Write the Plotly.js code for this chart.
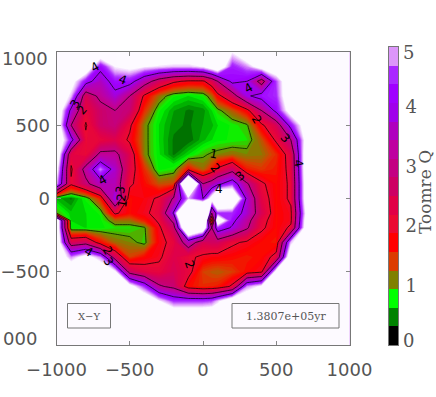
<!DOCTYPE html>
<html><head><meta charset="utf-8">
<script src="https://cdn.plot.ly/plotly-3.0.1.min.js"></script>
<style>html,body{margin:0;padding:0;background:#fff}#c{width:436px;height:397px}</style>
</head><body><div id="c"></div>
<script>
var gridX=[-1000,-900,-800,-700,-600,-500,-400,-300,-200,-100,0,60,100,200,300,400,500,600,700,800,900,1000];
var gridY=[1000,900,800,700,600,500,400,300,200,100,0,-100,-150,-200,-300,-400,-500,-600,-700,-800,-900,-1000];
var toomreQ=[
[6,6,6,6,5.2,6,6,6,6,6,6,6,6,5.2,6,6,6,6,6,6,6,6],
[6,6,6,4.2,5.2,5.4,5.2,5.1,5,5,5.2,5.7,6,4.4,4.8,5.6,6,6,6,6,6,6],
[6,5.5,4.3,3.6,4.3,4.3,3.4,2.6,2.1,1.9,1.9,2.4,3,4.2,4,2.6,4.6,6,6,6,6,6],
[6,5,2.5,3.2,3.8,3,1.9,1.2,.8,.7,.8,1.2,1.8,2.6,3.9,4.3,4.5,6,6,6,6,6],
[6,3.8,2.2,2.7,3,2.8,1.5,.8,.55,.45,.5,.7,.9,1.3,1.8,3,4.2,5.6,6,6,6,6],
[6,3,1.95,2.7,2.9,2.1,1.1,.7,.5,.45,.55,.6,.7,.8,.95,1.9,2.5,4.3,5.6,6,6,6],
[6,4.3,2.1,2.2,2.4,1.9,1.1,.7,.45,.4,.6,.7,.75,.8,.85,1.3,2.1,3,5.4,6,6,6],
[6,2.3,2.1,3.2,3.2,2.4,1.1,.72,.45,.7,.95,1.05,1.1,1.2,1.1,1.15,1.5,2.3,5.6,6,6,6],
[5.5,1.9,3.3,4.8,3.7,2.3,1.5,.75,.85,1.7,1.2,1.6,2.1,2.7,1.6,1.45,1.6,2.2,5.6,6,6,6],
[5,2.1,2.8,3.6,3.5,2.1,1.7,1.3,1.4,9,3,3.4,3.8,4.5,3.1,2.1,1.7,2.1,5.5,6,6,6],
[.6,.45,.8,1.6,4,1.7,1.8,2.1,3.1,4.9,4,5.5,7,6.5,3.8,2.3,1.7,2.1,5.5,6,6,6],
[1,.65,.7,.8,2.1,1.7,1.9,2.2,4.1,9,9,3,4.5,4.5,3.7,2.5,1.7,1.9,5.2,6,6,6],
[6,.7,.7,.75,1.2,1.2,1.6,2.1,3.2,8,8,.7,6,4.2,3.3,2.2,1.7,1.9,5.4,6,6,6],
[6,.75,.7,.75,.85,.85,.95,1.9,2.7,7,6,3,4.5,3.9,3.1,2.1,1.7,2.1,5.5,6,6,6],
[6,2.5,2.7,1.7,1.2,1.1,.9,1.8,2.2,3.5,2.5,2.6,2.6,2.1,1.9,1.7,1.6,5,6,6,6,6],
[6,4.8,5.5,4.8,2.6,1.4,1.7,1.9,2.4,2.1,1.9,1.8,1.8,1.7,1.6,1.7,2.2,6,6,6,6,6],
[6,6,6,6,5.3,2.7,2.3,2.2,2.5,2.2,1.4,1.3,1.25,1.4,1.7,1.9,5.5,6,6,6,6,6],
[6,6,6,6,6,5.5,4.5,3.1,2.8,1.7,1.5,1.55,1.6,2.1,4.8,5.3,6,6,6,6,6,6],
[6,6,6,6,6,6,6,5.2,4.5,4.5,4.5,4.6,5,6,6,6,6,6,6,6,6,6],
[6,6,6,6,6,6,6,6,6,6,6,6,6,6,6,6,6,6,6,6,6,6],
[6,6,6,6,6,6,6,6,6,6,6,6,6,6,6,6,6,6,6,6,6,6],
[6,6,6,6,6,6,6,6,6,6,6,6,6,6,6,6,6,6,6,6,6,6]
];
var bandColors=['#000000','#008200','#00ff00','#808000','#dc3c00','#ff0000','#eb0a32','#e10046','#cd0064','#c30082','#be00a0','#af00be','#a000eb','#a000ff','#aa28ff','#dc96fa'];
var bandStep=0.3125;
var mapStep=0.078125;
var mapEnd=5.3125;
var outsideColor='#fdfaff';
var barTickVals=[1,2,3,4];
var xTickVals=[-1000,-500,0,500,1000];
var yTickVals=[-1000,-500,0,500,1000];
var yTickText=['','\u2212500','0','500',''];
var lineLabelText=['4','4','3','2','4','3','2','1','4','2','3','4','1','2','3','4','4','2','3','2'];
var lineLabelX=[-737,-546,-874,-826,-683,-566,-553,-546,314,369,560,648,75,82,252,109,-778,-648,-642,-89];
var lineLabelY=[901,812,648,607,123,61,7,-34,751,539,410,239,307,205,157,68,-362,-355,-430,-451];
var lineLabelAngle=[-30,20,-60,-50,-30,-80,-80,-80,-30,60,50,80,10,50,-40,0,30,60,60,70];
var serif='"DejaVu Serif", serif';
var sans='"DejaVu Sans", sans-serif';
var grey='#555555';

// map colours blend between the colour bar's band colours on finer contour levels
var nc=Math.round(mapEnd/mapStep)+1;
function uOf(z){return (z/mapStep+0.5)/nc;}
var fillScale=[[0,bandColors[0]]];
bandColors.forEach(function(c,i){fillScale.push([uOf((i+0.5)*bandStep),c]);});
fillScale.push([uOf(5.2),outsideColor]);
fillScale.push([1,outsideColor]);
var barZ=bandColors.map(function(c,i){return [(i+0.5)*bandStep];});
var barY=bandColors.map(function(c,i){return (i+0.5)*bandStep;});
var barScale=[];
bandColors.forEach(function(c,i){barScale.push([i/16,c]);barScale.push([(i+1)/16,c]);});

var fillContours={start:0,end:mapEnd,size:mapStep,coloring:'fill',showlines:false};
var lineContours={start:1,end:4,size:1,coloring:'lines'};
var data=[
 {type:'contour',x:gridX,y:gridY,z:toomreQ,autocontour:false,contours:fillContours,colorscale:fillScale,
  line:{width:0,smoothing:0},showscale:false,hoverinfo:'skip'},
 {type:'contour',x:gridX,y:gridY,z:toomreQ,autocontour:false,contours:lineContours,
  colorscale:[[0,'#000'],[1,'#000']],line:{color:'#000',width:0.7,smoothing:0},showscale:false,hoverinfo:'skip'},
 {type:'heatmap',x:[0],y:barY,z:barZ,xaxis:'x2',yaxis:'y2',zmin:0,zmax:5,colorscale:barScale,showscale:false,hoverinfo:'skip'}
];
var W=436,H=397;
var notes=[
  {xref:'paper',yref:'paper',x:50/W,y:(H-58)/H,xanchor:'right',yanchor:'middle',text:'1000',showarrow:false,font:{family:sans,size:18,color:grey}},
  {xref:'paper',yref:'paper',x:39/W,y:(H-338)/H,xanchor:'right',yanchor:'middle',text:'000',showarrow:false,font:{family:sans,size:18,color:grey}},
  {xref:'paper',yref:'paper',x:401/W,y:(H-53)/H,xanchor:'left',yanchor:'middle',text:'5',showarrow:false,font:{family:serif,size:18,color:grey}},
  {xref:'paper',yref:'paper',x:401/W,y:(H-340)/H,xanchor:'left',yanchor:'middle',text:'0',showarrow:false,font:{family:serif,size:18,color:grey}},
  {xref:'paper',yref:'paper',x:425/W,y:(H-192)/H,xanchor:'center',yanchor:'middle',text:'Toomre Q',textangle:-90,showarrow:false,font:{family:serif,size:17,color:grey}},
  {xref:'paper',yref:'paper',x:89/W,y:(H-316)/H,xanchor:'center',yanchor:'middle',text:'X\u2212Y',showarrow:false,font:{family:serif,size:10,color:grey}},
  {xref:'paper',yref:'paper',x:285.5/W,y:(H-316)/H,xanchor:'center',yanchor:'middle',text:'1.3807e+05yr',showarrow:false,font:{family:serif,size:11,color:grey}}
];
lineLabelText.forEach(function(t,i){
  notes.push({xref:'x',yref:'y',x:lineLabelX[i],y:lineLabelY[i],text:t,textangle:lineLabelAngle[i],showarrow:false,
    xanchor:'center',yanchor:'middle',font:{family:sans,size:12,color:'#000'}});
});
var layout={
 width:W,height:H,margin:{l:0,r:0,t:0,b:0},paper_bgcolor:'#fff',plot_bgcolor:outsideColor,showlegend:false,
 xaxis:{domain:[56.5/W,349.5/W],range:[-1000,1000],tickvals:xTickVals,ticks:'inside',ticklen:4,tickcolor:'#888',
   showgrid:false,zeroline:false,showline:true,linecolor:'#777',linewidth:1,mirror:'ticks',
   tickfont:{family:sans,size:18,color:grey},ticklabelstandoff:8,anchor:'y'},
 yaxis:{domain:[(H-345)/H,(H-52)/H],range:[-1000,1000],tickvals:yTickVals,ticktext:yTickText,ticks:'inside',ticklen:4,tickcolor:'#888',
   showgrid:false,zeroline:false,showline:true,linecolor:'#777',linewidth:1,mirror:'ticks',
   tickfont:{family:sans,size:18,color:grey},ticklabelstandoff:2,anchor:'x'},
 xaxis2:{domain:[389/W,398/W],range:[-.5,.5],showticklabels:false,ticks:'',showgrid:false,zeroline:false,
   showline:true,linecolor:'#777',mirror:true,anchor:'y2'},
 yaxis2:{domain:[(H-345)/H,(H-47)/H],range:[0,5],side:'right',tickvals:barTickVals,ticks:'',showgrid:false,zeroline:false,
   showline:true,linecolor:'#777',mirror:true,anchor:'x2',tickfont:{family:serif,size:18,color:grey},ticklabelstandoff:3},
 annotations:notes,
 shapes:[
  {type:'rect',xref:'paper',yref:'paper',x0:67.5/W,x1:110.5/W,y0:(H-328)/H,y1:(H-303.5)/H,line:{color:'#777',width:1}},
  {type:'rect',xref:'paper',yref:'paper',x0:232/W,x1:339/W,y0:(H-328)/H,y1:(H-303.5)/H,line:{color:'#777',width:1}}
 ]
};
Plotly.newPlot('c',data,layout,{displayModeBar:false,staticPlot:true});
</script></body></html>
